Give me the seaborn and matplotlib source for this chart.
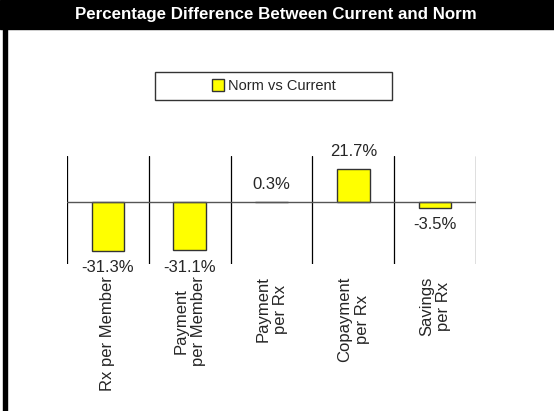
import matplotlib
matplotlib.use('Agg')
import matplotlib.pyplot as plt
import seaborn as sns
import pandas as pd
from matplotlib.patches import Rectangle, Patch

categories = ['Rx per Member', 'Payment\nper Member', 'Payment\nper Rx',
              'Copayment\nper Rx', 'Savings\nper Rx']
values = [-31.3, -31.1, 0.3, 21.7, -3.5]
value_labels = ['-31.3%', '-31.1%', '0.3%', '21.7%', '-3.5%']
series_name = 'Norm vs Current'
title = 'Percentage Difference Between Current and Norm'

sns.set_style('white')
plt.rcParams['font.family'] = ['Liberation Sans', 'DejaVu Sans']

df = pd.DataFrame({'category': categories, 'value': values})

fig = plt.figure(figsize=(5.54, 4.11), dpi=100)
W, H = 554, 411

# title bar and left border
fig.patches.append(Rectangle((0, (H - 29) / H), 1, 29 / H, transform=fig.transFigure,
                             color='black', zorder=0))
fig.patches.append(Rectangle((3 / W, 0), 4 / W, 1, transform=fig.transFigure,
                             color='black', zorder=0))
fig.text(276 / W, (H - 15) / H, title, color='white', ha='center', va='center',
         fontsize=12.2, fontweight='bold')

ax = fig.add_axes([67 / W, (H - 264) / H, 409 / W, 108 / H])
sns.barplot(data=df, x='category', y='value', color='#ffff00', width=0.4,
            edgecolor='#333333', linewidth=1, saturation=1, ax=ax, legend=False)
ax.set_xlim(-0.5, len(categories) - 0.5)
ax.set_ylim(-40, 30)
ax.axhline(0, color='#555555', lw=1, zorder=1)

# category separators
for b in [i - 0.5 for i in range(len(categories) + 1)]:
    ax.axvline(b, color='black', lw=0.9, zorder=0)

for s in ax.spines.values():
    s.set_visible(False)
ax.set_yticks([])
ax.set_xlabel('')
ax.set_ylabel('')
ax.set_xticks(range(len(categories)))
ax.set_xticklabels(categories, rotation=90, va='top', ha='center',
                   multialignment='center', fontsize=12)
ax.tick_params(axis='x', length=0, pad=9)

ax.bar_label(ax.containers[0], labels=value_labels, padding=7, fontsize=12)

# legend box
fig.patches.append(Rectangle((155 / W, (H - 100) / H), 237 / W, 28 / H,
                             transform=fig.transFigure, facecolor='white',
                             edgecolor='#333333', lw=1, zorder=1))
handle = Patch(facecolor='#ffff00', edgecolor='#333333', lw=1)
fig.legend(handles=[handle], labels=[series_name],
           loc='center', bbox_to_anchor=(274 / W, (H - 86) / H), frameon=False,
           fontsize=10.5, handlelength=0.8, handleheight=0.8, handletextpad=0.3)

fig.savefig('out.png', dpi=100)
